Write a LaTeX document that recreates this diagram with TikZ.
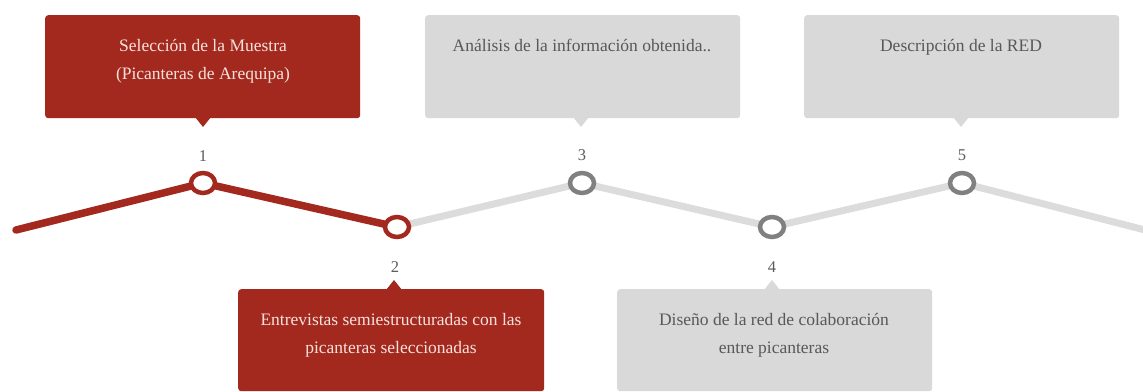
\documentclass[tikz,border=0pt]{standalone}
\usepackage{fontspec}
\setmainfont{Liberation Serif}
\usetikzlibrary{shapes.geometric,backgrounds}
\definecolor{bred}{RGB}{163,41,31}
\definecolor{bgrey}{RGB}{217,217,217}
\definecolor{lgrey}{RGB}{220,220,220}
\definecolor{cgrey}{RGB}{128,128,128}
\definecolor{tgrey}{RGB}{88,88,88}
\definecolor{tlight}{RGB}{246,226,220}
\definecolor{ngrey}{RGB}{95,90,90}
\begin{document}
\begin{tikzpicture}[x=1pt,y=-1pt,
  box/.style={rectangle,rounded corners=3pt,minimum width=315pt,inner sep=0pt,anchor=north west},
  redbox/.style={box,fill=bred},
  greybox/.style={box,fill=bgrey},
  btext/.style={inner sep=0pt,anchor=north,align=center,font=\fontsize{17.5}{28}\selectfont},
  rtext/.style={btext,text=tlight},
  gtext/.style={btext,text=tgrey},
  num/.style={inner sep=0pt,font=\fontsize{16.5}{18}\selectfont,text=ngrey},
  dot/.style={ellipse,fill=white,line width=4.5pt,minimum width=24pt,minimum height=20pt,inner sep=0pt},
  reddot/.style={dot,draw=bred},
  greydot/.style={dot,draw=cgrey},
  redline/.style={draw=bred,line width=7.5pt,line cap=round},
  greyline/.style={draw=lgrey,line width=7pt}
]
\useasboundingbox (0,0) rectangle (1143,391);
% top boxes
\node[redbox,minimum height=103pt] (b1) at (45,15) {};
\fill[bred] (195,117) -- (203,127) -- (211,117) -- cycle;
\node[rtext] (t1) at (203,39) {Selección de la Muestra\\(Picanteras de Arequipa)};
\node[greybox,minimum height=103pt] (b3) at (425,15) {};
\fill[bgrey] (573,117) -- (581,127) -- (589,117) -- cycle;
\node[gtext] (t3) at (582,39) {Análisis de la información obtenida..};
\node[greybox,minimum height=103pt] (b5) at (804,15) {};
\fill[bgrey] (953,117) -- (961,127) -- (969,117) -- cycle;
\node[gtext] (t5) at (961,39) {Descripción de la RED};
% bottom boxes
\node[redbox,minimum width=306pt,minimum height=102pt] (b2) at (238,289) {};
\fill[bred] (386,290) -- (394,280) -- (402,290) -- cycle;
\node[rtext] (t2) at (391,313) {Entrevistas semiestructuradas con las\\picanteras seleccionadas};
\node[greybox,minimum height=102pt] (b4) at (617,289) {};
\fill[bgrey] (764,290) -- (772,280) -- (780,290) -- cycle;
\node[gtext] (t4) at (774,313) {Diseño de la red de colaboración\\entre picanteras};
% numbers
\node[num] (n1) at (203,156) {1};
\node[num] (n3) at (582,155) {3};
\node[num] (n5) at (962,155) {5};
\node[num] (n2) at (395,267) {2};
\node[num] (n4) at (772,267) {4};
% dots
\node[reddot] (c1) at (203,183) {};
\node[reddot] (c2) at (397,227) {};
\node[greydot] (c3) at (582,183) {};
\node[greydot] (c4) at (772,227) {};
\node[greydot] (c5) at (962,183) {};
\coordinate (s) at (16,230);
\coordinate (e) at (1145,230);
\begin{pgfonlayer}{background}
\draw[greyline] (c2.center) -- (c3.center) -- (c4.center) -- (c5.center) -- (e);
\draw[redline] (s) -- (c1.center) -- (c2.center);
\end{pgfonlayer}
\end{tikzpicture}
\end{document}
